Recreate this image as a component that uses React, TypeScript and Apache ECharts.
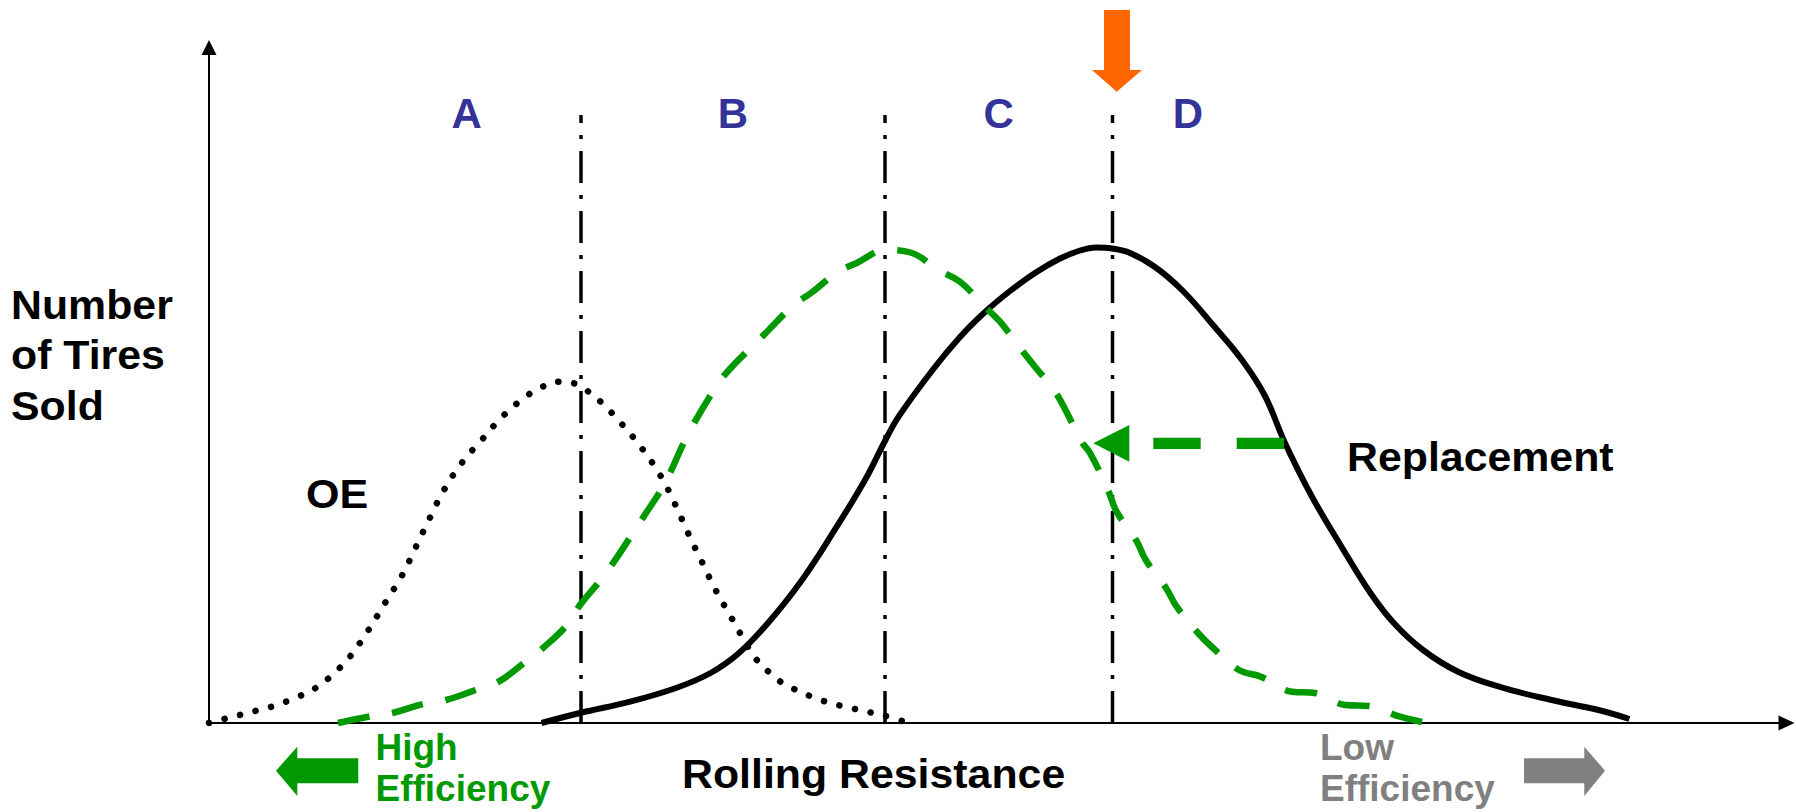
import React, { useEffect, useRef } from "react";
import * as echarts from "echarts";

// Values. x: rolling resistance (arbitrary units), y: number of tires sold (arbitrary units)
const oeCurve: [number, number][] = [
  [0, 0], [1.5, 0.4], [3.05, 0.8], [4.6, 1.2], [6.15, 1.6], [7.6, 2.1], [9.1, 2.7], [10.56, 3.43],
  [11.88, 4.4], [13.0, 5.43], [14.1, 6.63], [15.95, 9.3], [17.6, 12.0], [19.27, 14.7], [20.7, 17.63],
  [22.08, 20.5], [23.5, 23.3], [25.3, 26.03], [27.35, 28.4], [29.5, 30.8], [31.9, 32.8], [33.37, 33.63],
  [34.86, 34.13], [36.35, 34.0], [37.7, 33.3], [39.16, 32.13], [41.28, 29.9], [43.34, 27.4],
  [45.17, 24.7], [46.6, 21.9], [47.9, 19.0], [49.3, 16.1], [50.7, 13.23], [52.3, 10.43], [53.1, 9.0],
  [54.7, 6.4], [55.95, 5.13], [57.15, 4.13], [58.5, 3.4], [61.45, 2.2], [64.6, 1.4], [67.64, 0.7], [69.6, 0.1],
];

const efficientCurve: [number, number][] = [
  [12.9, 0], [15.8, 0.6], [18.35, 1.0], [21.4, 1.9], [23.7, 2.3], [26.66, 3.3], [28.96, 4.13], [31.5, 6.0],
  [33.4, 7.5], [35.8, 9.8], [37.1, 11.8], [39.16, 14.3], [40.5, 16.13], [42.4, 19.0], [43.57, 20.8],
  [45.58, 23.97], [47.87, 28.8], [50.7, 33.63], [52.0, 35.3], [54.46, 37.8], [55.8, 39.13], [58.47, 41.8],
  [60.2, 43.0], [62.77, 45.03], [64.77, 46.0], [67.7, 47.3], [70.3, 47.0], [72.9, 45.3], [75.1, 44.13],
  [77.5, 41.7], [79.1, 40.13], [81.1, 37.5], [82.6, 35.63], [84.6, 33.13], [85.7, 31.2], [87.25, 28.13],
  [88.1, 27.0], [89.9, 23.3], [90.76, 21.13], [92.7, 18.3], [93.68, 16.3], [95.7, 13.5], [96.77, 11.63],
  [98.9, 9.0], [100.4, 7.5], [103.0, 5.3], [105.2, 4.63], [108.3, 3.13], [110.6, 3.0], [113.65, 1.8],
  [116.0, 1.7], [119.1, 0.63], [121.8, 0],
];

const replacementCurve: [number, number][] = [
  [33.25, 0], [37.1, 1.0], [42.1, 2.13], [46.7, 3.5], [50.16, 5.0], [53.0, 7.0], [55.9, 10.0], [59.3, 14.3],
  [62.77, 19.63], [65.6, 24.3], [67.6, 28.2], [68.96, 30.63], [72.36, 35.3], [75.1, 38.6], [77.6, 41.1],
  [80.1, 43.2], [82.6, 45.0], [85.1, 46.45], [87.1, 47.25], [88.7, 47.55], [90.3, 47.45], [92.1, 47.0],
  [94.6, 45.6], [97.4, 43.2], [100.4, 39.8], [103.3, 36.3], [105.6, 32.7], [107.6, 28.0], [110.3, 22.63],
  [113.25, 17.63], [116.16, 12.97], [118.5, 9.97], [121.4, 7.3], [124.9, 5.13], [129.0, 3.63],
  [134.27, 2.3], [138.95, 1.3], [142.04, 0.4],
];

const zoneBoundaries = [37.2, 67.6, 90.35];
const boundaryTop = 60.8;
const zoneLabels = ["A", "B", "C", "D"];

const FONT = '"Liberation Sans", Arial, Helvetica, sans-serif';
const BLUE = "#333399";
const GREEN = "#009900";
const GRAY = "#808080";
const ORANGE = "#FF6600";

export default function App() {
  const ref = useRef<HTMLDivElement>(null);

  useEffect(() => {
    if (!ref.current) return;
    const chart = echarts.init(ref.current, undefined, { renderer: "svg" });

    const txt = (
      text: string,
      x: number,
      y: number,
      size: number,
      fill: string,
      align = "left",
      scaleX = 1
    ) => ({
      type: "text",
      x,
      y,
      scaleX,
      z: 100,
      style: {
        text,
        fill,
        font: `bold ${size}px ${FONT}`,
        align,
        verticalAlign: "middle",
      },
    });

    const zoneX = [466.7, 733, 998.6, 1188];

    const series: any[] = [
      {
        name: "OE",
        type: "line",
        data: oeCurve,
        smooth: 0.4,
        showSymbol: false,
        lineStyle: { color: "#000", width: 6.5, type: [0.1, 15.9], cap: "round" },
        z: 3,
      },
      {
        name: "Efficient",
        type: "line",
        data: efficientCurve,
        smooth: 0.4,
        showSymbol: false,
        lineStyle: { color: GREEN, width: 6.5, type: [32, 23], cap: "butt" },
        z: 4,
      },
      {
        name: "Replacement",
        type: "line",
        data: replacementCurve,
        smooth: 0.4,
        showSymbol: false,
        lineStyle: { color: "#000", width: 6, cap: "butt" },
        z: 3,
      },
      ...zoneBoundaries.map((b, i) => ({
        name: "boundary" + i,
        type: "line",
        data: [
          [b, boundaryTop],
          [b, 0],
        ],
        showSymbol: false,
        lineStyle: { color: "#000", width: 3.5, type: [32, 12, 4, 12], dashOffset: 23.7 },
        z: 2,
      })),
    ];

    chart.setOption({
      animation: false,
      backgroundColor: "#fff",
      grid: { left: 209, right: 9.5, top: 47.5, bottom: 89, containLabel: false },
      xAxis: {
        type: "value",
        min: 0,
        max: 157.75,
        axisLine: {
          show: true,
          onZero: false,
          lineStyle: { color: "#000", width: 2 },
          symbol: ["none", "triangle"],
          symbolSize: [15, 16],
        },
        axisTick: { show: false },
        axisLabel: { show: false },
        splitLine: { show: false },
      },
      yAxis: {
        type: "value",
        min: 0,
        max: 67.55,
        axisLine: {
          show: true,
          onZero: false,
          lineStyle: { color: "#000", width: 2 },
          symbol: ["none", "triangle"],
          symbolSize: [15, 15],
        },
        axisTick: { show: false },
        axisLabel: { show: false },
        splitLine: { show: false },
      },
      series,
      graphic: [
        ...zoneLabels.map((l, i) => txt(l, zoneX[i], 113.7, 42, BLUE, "center")),
        txt("Number", 11, 305.3, 41, "#000", "left", 1.045),
        txt("of Tires", 11, 355.3, 41, "#000", "left", 1.045),
        txt("Sold", 11, 405.8, 41, "#000", "left", 1.045),
        txt("OE", 306, 494, 41, "#000", "left", 1.05),
        txt("Replacement", 1347, 456.5, 41, "#000", "left", 1.045),
        txt("Rolling Resistance", 682, 773.8, 41, "#000", "left", 1.045),
        txt("High", 375.5, 747.9, 37, GREEN),
        txt("Efficiency", 375.5, 788.9, 37, GREEN),
        txt("Low", 1320, 747.9, 37, GRAY),
        txt("Efficiency", 1320, 788.9, 37, GRAY),
        {
          type: "polygon",
          z: 100,
          shape: {
            points: [
              [1104, 10], [1130, 10], [1130, 70], [1142, 70], [1116.7, 91.7], [1092, 70], [1104, 70],
            ],
          },
          style: { fill: ORANGE },
        },
        {
          type: "polygon",
          z: 100,
          shape: {
            points: [
              [276, 770.7], [297.3, 746.7], [297.3, 758.3], [358.3, 758.3], [358.3, 783.3], [297.3, 783.3], [297.3, 796],
            ],
          },
          style: { fill: GREEN },
        },
        {
          type: "polygon",
          z: 100,
          shape: {
            points: [
              [1605, 770.7], [1584.3, 746.7], [1584.3, 758.3], [1524, 758.3], [1524, 783.3], [1584.3, 783.3], [1584.3, 796],
            ],
          },
          style: { fill: GRAY },
        },
        {
          type: "polygon",
          z: 100,
          shape: { points: [[1093.3, 443.3], [1129.3, 425], [1129.3, 461.7]] },
          style: { fill: GREEN },
        },
        { type: "rect", z: 100, shape: { x: 1153.3, y: 437.7, width: 47.4, height: 11.3 }, style: { fill: GREEN } },
        { type: "rect", z: 100, shape: { x: 1236.7, y: 437.7, width: 47.3, height: 11.3 }, style: { fill: GREEN } },
      ],
    });

    return () => chart.dispose();
  }, []);

  return (
    <div
      ref={ref}
      style={{ position: "absolute", left: 0, top: 0, width: 1796, height: 812, background: "#fff" }}
    />
  );
}
